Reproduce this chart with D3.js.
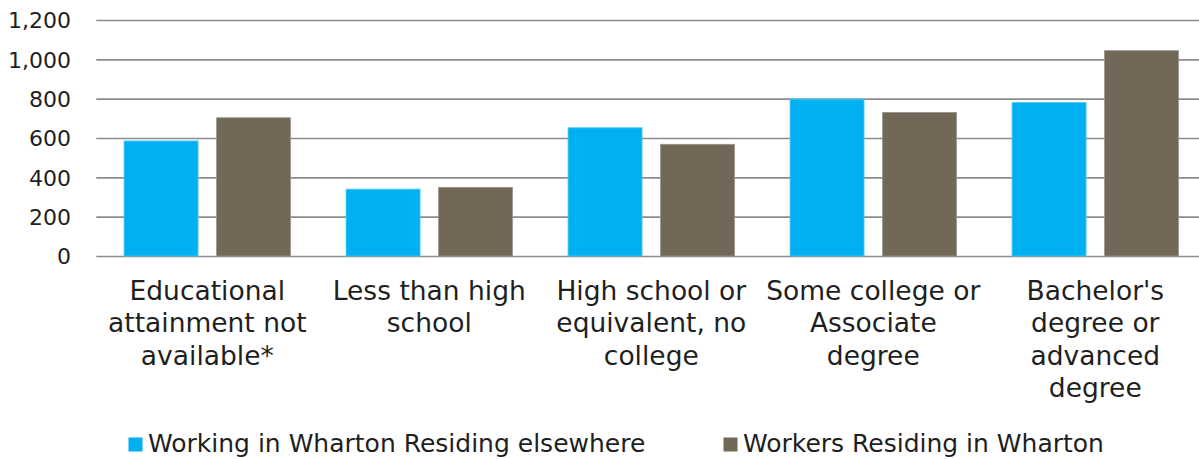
<!DOCTYPE html>
<html>
<head>
<meta charset="utf-8">
<script src="https://cdn.jsdelivr.net/npm/d3@7"></script>
<style>
  body { margin: 0; background: #fff; }
  text { font-family: "DejaVu Sans", sans-serif; fill: #1f1f1f; }
  .tick-label { font-size: 22px; }
  .cat-label { font-size: 26.5px; }
  .legend-label { font-size: 25px; }
</style>
</head>
<body>
<svg id="chart"></svg>
<script>
// set svg size and plot margins
const width = 1199;
const height = 459;

// categories, split into the lines shown under each group
var categories = [
  "Educational attainment not available*",
  "Less than high school",
  "High school or equivalent, no college",
  "Some college or Associate degree",
  "Bachelor's degree or advanced degree"
];

var categoryLines = [
  ["Educational", "attainment not", "available*"],
  ["Less than high", "school"],
  ["High school or", "equivalent, no", "college"],
  ["Some college or", "Associate", "degree"],
  ["Bachelor's", "degree or", "advanced", "degree"]
];

var seriesNames = [
  "Working in Wharton Residing elsewhere",
  "Workers Residing in Wharton"
];

var elsewhereValues = [585, 340, 652, 798, 780];
var whartonValues = [703, 349, 568, 730, 1044];

var yTicks = [0, 200, 400, 600, 800, 1000, 1200];

var colors = d3.scaleOrdinal()
  .domain(seriesNames)
  .range(["#00B0F0", "#716858"]);

// plot region (right edge runs a little past the window, as in the picture)
const plotLeft = 96.3;
const plotRight = 1206.3;
const plotTop = 20;
const plotBottom = 256;

const svg = d3.select("#chart")
  .attr("width", width)
  .attr("height", height);

const x0 = d3.scaleBand()
  .domain(categories)
  .range([plotLeft, plotRight])
  .padding(0);

const x1 = d3.scaleBand()
  .domain(seriesNames)
  .range([0, x0.bandwidth()])
  .paddingInner(0.2)
  .paddingOuter(0.3);

const yScale = d3.scaleLinear()
  .domain([0, 1200])
  .range([plotBottom, plotTop]);

drawGrid();
drawBars();
drawCategoryLabels();
drawLegend();

function translate(x, y) {
  return "translate(" + String(x) + "," + String(y) + ")";
}

/*
 * horizontal gridlines and y tick labels
 */
function drawGrid() {
  let yAxis = d3.axisLeft(yScale)
    .tickValues(yTicks)
    .tickSize(-(width - plotLeft))
    .tickPadding(25.3)
    .tickFormat(d3.format(","));

  let g = svg.append("g")
    .attr("id", "y-axis")
    .attr("transform", translate(plotLeft, 0))
    .call(yAxis);

  g.select("path.domain").remove();

  g.selectAll("line")
    .attr("stroke", "#8c8c8c")
    .attr("stroke-width", 1.6);

  g.selectAll("text")
    .attr("class", "tick-label")
    .attr("fill", "#1f1f1f")
    .attr("dy", "0.36em");

  g.attr("font-family", null).attr("font-size", null);
}

/*
 * grouped bars
 */
function drawBars() {
  let rows = categories.map((c, i) => ({
    category: c,
    values: [
      { series: seriesNames[0], value: elsewhereValues[i] },
      { series: seriesNames[1], value: whartonValues[i] }
    ]
  }));

  let groups = svg.append("g")
    .attr("id", "bars")
    .selectAll("g")
    .data(rows)
    .enter()
    .append("g")
    .attr("transform", d => translate(x0(d.category), 0));

  groups.selectAll("rect")
    .data(d => d.values)
    .enter()
    .append("rect")
    .attr("x", d => x1(d.series))
    .attr("width", x1.bandwidth())
    .attr("y", d => yScale(d.value))
    .attr("height", d => yScale(0) - yScale(d.value))
    .attr("fill", d => colors(d.series))
    .attr("stroke", d => d.series == seriesNames[0] ? "#4fcaf5" : "#9c958a")
    .attr("stroke-width", 0.8);
}

/*
 * wrapped category labels under each group
 */
function drawCategoryLabels() {
  let labels = svg.append("g")
    .attr("id", "x-labels")
    .selectAll("text")
    .data(categories)
    .enter()
    .append("text")
    .attr("class", "cat-label")
    .attr("text-anchor", "middle")
    .attr("x", d => x0(d) + x0.bandwidth() / 2)
    .attr("y", 299.5);

  labels.selectAll("tspan")
    .data((d, i) => categoryLines[i])
    .enter()
    .append("tspan")
    .attr("x", function() { return d3.select(this.parentNode).attr("x"); })
    .attr("dy", (d, i) => i == 0 ? 0 : 32.5)
    .text(d => d);
}

function drawLegend() {
  let legendX = [128.5, 723.5];
  let box = 14;

  let items = svg.append("g")
    .attr("id", "legend")
    .selectAll("g")
    .data(seriesNames)
    .enter()
    .append("g")
    .attr("transform", (d, i) => translate(legendX[i], 437.5));

  items.append("rect")
    .attr("width", box)
    .attr("height", box)
    .attr("fill", d => colors(d));

  items.append("text")
    .attr("class", "legend-label")
    .attr("x", box + 5.5)
    .attr("y", 14.3)
    .text(d => d);
}
</script>
</body>
</html>
